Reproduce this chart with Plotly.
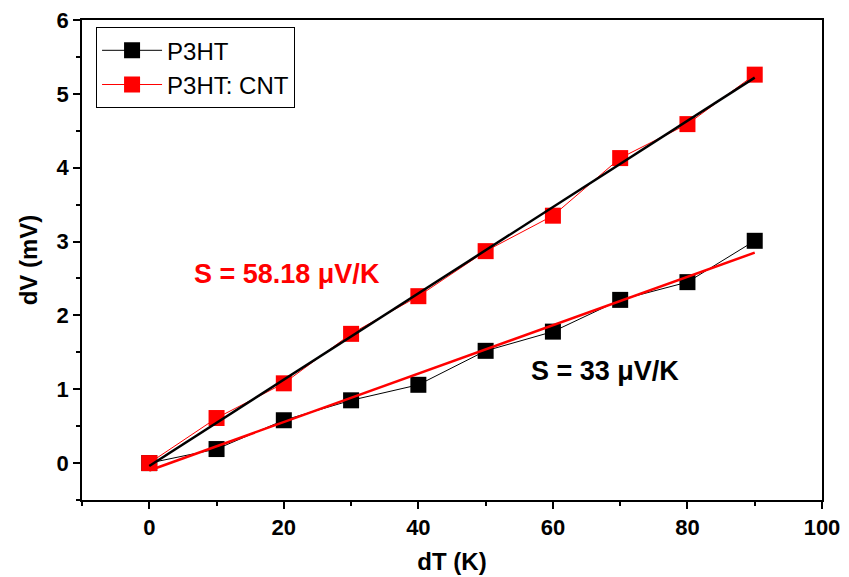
import plotly.graph_objects as go

dT = [0, 10, 20, 30, 40, 50, 60, 70, 80, 90]
dV_p3ht = [0.0, 0.19, 0.58, 0.85, 1.06, 1.52, 1.78, 2.21, 2.45, 3.01]
dV_cnt = [0.0, 0.61, 1.08, 1.75, 2.26, 2.87, 3.35, 4.13, 4.59, 5.26]

fit_x = [0, 90]
fit_p3ht = [-0.10, 2.85]
fit_cnt = [-0.04, 5.22]

x_ticks = [0, 20, 40, 60, 80, 100]
y_ticks = [0, 1, 2, 3, 4, 5, 6]

FONT = "Liberation Sans, Arial, sans-serif"

fig = go.Figure()
fig.add_trace(go.Scatter(x=dT, y=dV_p3ht, mode="lines+markers", name="P3HT",
                         line=dict(color="black", width=1),
                         marker=dict(symbol="square", size=16, color="black")))
fig.add_trace(go.Scatter(x=dT, y=dV_cnt, mode="lines+markers", name="P3HT: CNT",
                         line=dict(color="red", width=1),
                         marker=dict(symbol="square", size=16, color="red")))
fig.add_trace(go.Scatter(x=fit_x, y=fit_cnt, mode="lines", showlegend=False,
                         line=dict(color="black", width=2.5)))
fig.add_trace(go.Scatter(x=fit_x, y=fit_p3ht, mode="lines", showlegend=False,
                         line=dict(color="red", width=2.5)))

fig.add_annotation(x=20.4, y=2.56, text="S = 58.18 μV/K", showarrow=False,
                   font=dict(color="red", size=27, family=FONT, weight="bold"))
fig.add_annotation(x=67.7, y=1.25, text="S = 33 μV/K", showarrow=False,
                   font=dict(color="black", size=27, family=FONT, weight="bold"))

fig.update_layout(
    width=849, height=577,
    margin=dict(l=74, r=35, t=12, b=85),
    plot_bgcolor="white", paper_bgcolor="white",
    font=dict(family=FONT, color="black"),
    legend=dict(x=0.019, y=0.985, xanchor="left", yanchor="top",
                bordercolor="black", borderwidth=1, bgcolor="white",
                font=dict(size=24, family=FONT), tracegroupgap=0,
                itemwidth=60),
    xaxis=dict(range=[-10, 100], tickvals=x_ticks,
               ticks="outside", ticklen=7, tickwidth=1.5, tickcolor="black",
               minor=dict(ticks="outside", ticklen=4, dtick=10, tick0=0, tickcolor="black"),
               showline=True, linecolor="black", linewidth=1.5, mirror=True,
               showgrid=False, zeroline=False, automargin=False,
               ticklabeloverflow="allow",
               tickfont=dict(size=22, family=FONT, weight="bold"),
               title=dict(text="dT (K)", font=dict(size=24, family=FONT, weight="bold"), standoff=14)),
    yaxis=dict(range=[-0.5, 6], tickvals=y_ticks,
               ticks="outside", ticklen=7, tickwidth=1.5, tickcolor="black",
               minor=dict(ticks="outside", ticklen=4, dtick=0.5, tick0=0, tickcolor="black"),
               showline=True, linecolor="black", linewidth=1.5, mirror=True,
               showgrid=False, zeroline=False, automargin=False,
               ticklabeloverflow="allow",
               tickfont=dict(size=22, family=FONT, weight="bold"),
               title=dict(text="dV (mV)", font=dict(size=24, family=FONT, weight="bold"), standoff=12)),
)

fig.write_html("out.html")
